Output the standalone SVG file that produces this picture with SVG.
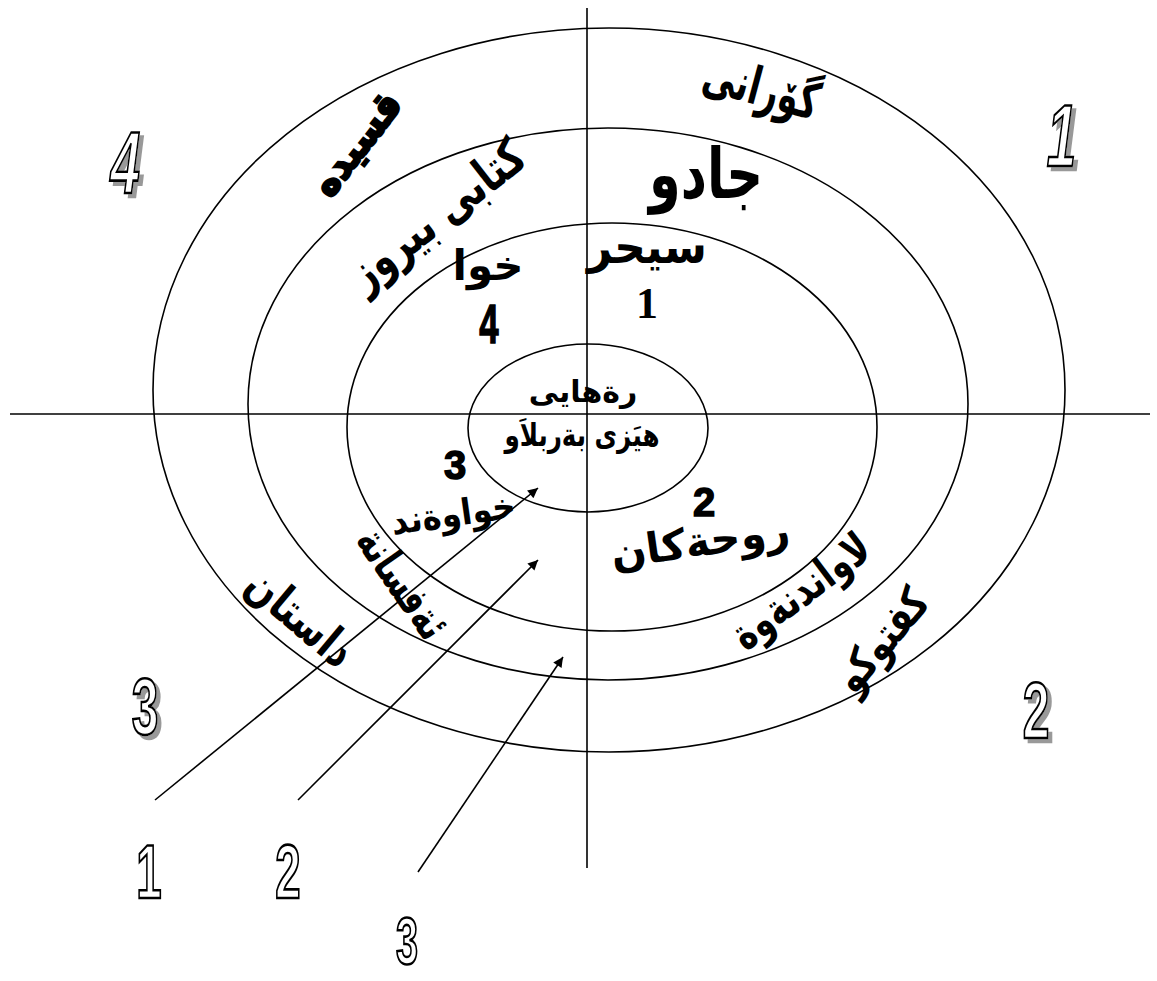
<svg xmlns="http://www.w3.org/2000/svg" width="1157" height="981" viewBox="0 0 1157 981">
<style>
.ln{stroke:#000;stroke-width:1.6;fill:none}
.ar{font-family:"DejaVu Sans","Noto Sans",sans-serif;font-weight:bold;fill:#000;text-anchor:middle}
.num{font-family:"Liberation Sans",Arial,sans-serif;font-weight:bold;text-anchor:middle;fill:#fff;stroke:#000;stroke-width:2.6}
.shd{filter:url(#ds)}
.blk{font-family:"Liberation Sans",Arial,sans-serif;font-weight:bold;text-anchor:middle;fill:#000;stroke:#000;stroke-width:1.5}
</style>
<defs>
<marker id="ah" viewBox="0 0 10 10" refX="10" refY="5" markerWidth="16" markerHeight="10" markerUnits="userSpaceOnUse" orient="auto">
<path d="M0,0 L10,5 L0,10 z" fill="#000"/>
</marker>
<filter id="ds" x="-30%" y="-20%" width="170%" height="150%">
<feOffset in="SourceAlpha" dx="4" dy="4" result="o"/>
<feFlood flood-color="#999"/>
<feComposite in2="o" operator="in" result="s"/>
<feMerge><feMergeNode in="s"/><feMergeNode in="SourceGraphic"/></feMerge>
</filter>
</defs>
<rect width="1157" height="981" fill="#fff"/>
<g id="rings">
<ellipse class="ln" cx="609" cy="390" rx="456" ry="362"/>
<ellipse class="ln" cx="608" cy="404" rx="360" ry="276"/>
<ellipse class="ln" cx="612" cy="427" rx="265" ry="204"/>
<ellipse class="ln" cx="588" cy="428" rx="120" ry="84"/>
</g>
<g id="axes">
<line class="ln" x1="587" y1="8" x2="587" y2="868" stroke-width="1.8"/>
<line class="ln" x1="10" y1="414" x2="1150" y2="414" stroke-width="1.8"/>
</g>
<g id="connectors">
<line class="ln" x1="155" y1="800" x2="538" y2="488" marker-end="url(#ah)"/>
<line class="ln" x1="298" y1="800" x2="538" y2="560" marker-end="url(#ah)"/>
<line class="ln" x1="418" y1="872" x2="563" y2="657" marker-end="url(#ah)"/>
</g>
<g id="q1">
<text class="ar" transform="translate(757,105) rotate(15)" font-size="52" textLength="118" lengthAdjust="spacingAndGlyphs">گۆرانى</text>
<text class="ar" x="706" y="198" font-size="70" textLength="114" lengthAdjust="spacingAndGlyphs">جادو</text>
<text class="ar" x="647" y="263" font-size="46" textLength="120" lengthAdjust="spacingAndGlyphs">سيحر</text>
<text x="647" y="318" font-family="Liberation Serif,serif" font-weight="bold" font-size="44" text-anchor="middle">1</text>
</g>
<g id="q4">
<text class="ar" transform="translate(447,228) rotate(-38)" font-size="50" textLength="210" lengthAdjust="spacingAndGlyphs">كتابى بيروز</text>
<text class="ar" transform="translate(367,152) rotate(-52)" font-size="40" textLength="120" lengthAdjust="spacingAndGlyphs" stroke="#000" stroke-width="2.5">قسيده</text>
<text class="ar" x="488" y="280" font-size="42">خوا</text>
<text class="blk" transform="translate(489,343) scale(0.62,1)" font-size="56">4</text>
</g>
<g id="center">
<text class="ar" x="583" y="402" font-size="30">رةهايى</text>
<text class="ar" x="582" y="446" font-size="32" textLength="155" lengthAdjust="spacingAndGlyphs">هيَزى بةربلاَو</text>
</g>
<g id="q3">
<text class="blk" x="455" y="479" font-size="40">3</text>
<text class="ar" transform="translate(455,526) rotate(-8)" font-size="36" textLength="125" lengthAdjust="spacingAndGlyphs">خواوةند</text>
<text class="ar" transform="translate(390,592) rotate(55)" font-size="44" textLength="125" lengthAdjust="spacingAndGlyphs">ئةفسانة</text>
<text class="ar" transform="translate(290,630) rotate(40)" font-size="48" textLength="125" lengthAdjust="spacingAndGlyphs">داستان</text>
</g>
<g id="q2">
<text class="blk" x="704" y="516" font-size="40">2</text>
<text class="ar" transform="translate(702,556) rotate(-8)" font-size="42" textLength="180" lengthAdjust="spacingAndGlyphs">روحةكان</text>
<text class="ar" transform="translate(810,603) rotate(-37)" font-size="44" textLength="162" lengthAdjust="spacingAndGlyphs">لاواندنةوة</text>
<text class="ar" transform="translate(893,650) rotate(-50)" font-size="44" textLength="120" lengthAdjust="spacingAndGlyphs">كفتوكو</text>
</g>
<g id="corner-1" class="shd">
<text class="num" transform="translate(1059,166) scale(0.6,1) skewX(-12)" font-size="88">1</text>
</g>
<g id="corner-4" class="shd">
<text class="num" transform="translate(122,193) scale(0.6,1) skewX(-12)" font-size="88">4</text>
</g>
<g id="corner-3" class="shd">
<text class="num" transform="translate(145,734) scale(0.6,1)" font-size="80">3</text>
</g>
<g id="corner-2" class="shd">
<text class="num" transform="translate(1036,738) scale(0.6,1)" font-size="80">2</text>
</g>
<g id="bottom-labels">
<text class="num" transform="translate(149,898) scale(0.6,1)" font-size="76">1</text>
<text class="num" transform="translate(288,898) scale(0.6,1)" font-size="76">2</text>
<text class="num" transform="translate(407,964) scale(0.6,1)" font-size="66">3</text>
</g>
</svg>
